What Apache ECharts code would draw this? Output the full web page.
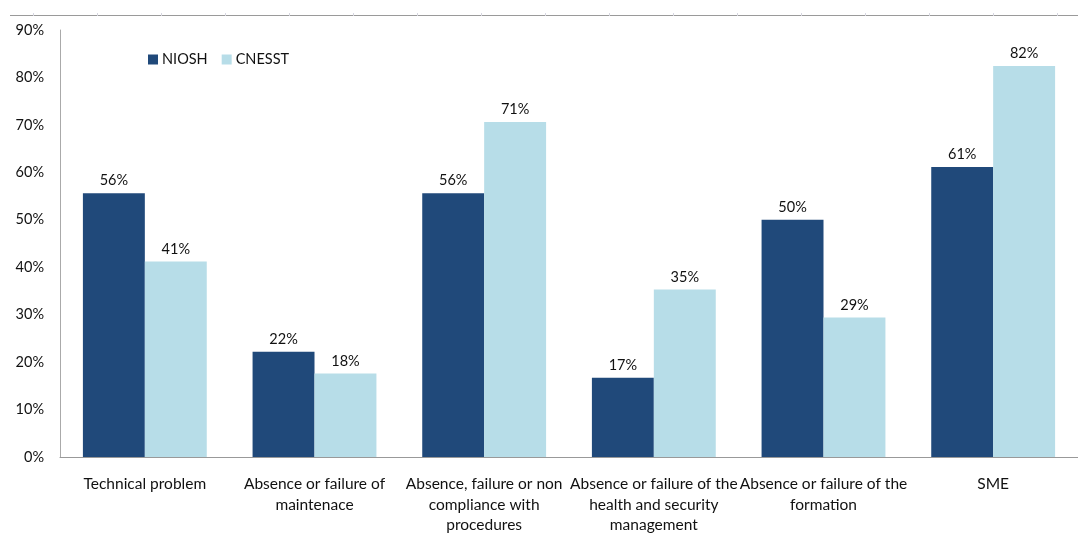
<!DOCTYPE html>
<html>
<head>
<meta charset="utf-8">
<script src="https://cdn.jsdelivr.net/npm/echarts@6/dist/echarts.min.js"></script>
<style>
html,body{margin:0;padding:0;background:#fff;}
#c{width:1078px;height:536px;}
</style>
</head>
<body>
<div id="c"></div>
<script>
const categories = [
  "Technical problem",
  "Absence or failure of\nmaintenace",
  "Absence, failure or non\ncompliance with\nprocedures",
  "Absence or failure of the\nhealth and security\nmanagement",
  "Absence or failure of the\nformation",
  "SME"
];
const niosh = [55.6, 22.2, 55.6, 16.7, 50.0, 61.1];
const cnesst = [41.2, 17.6, 70.6, 35.3, 29.4, 82.4];
const yTicks = [0, 10, 20, 30, 40, 50, 60, 70, 80, 90];

const FONT = 'Lato';
const chart = echarts.init(document.getElementById('c'));
const topTicks = [];
for (let x = 33.5; x < 1078; x += 64) {
  topTicks.push({type:'line', shape:{x1:x, y1:13, x2:x, y2:16}, style:{stroke:'#d6d6e0', lineWidth:1}, silent:true});
}
const label = {
  show: true, position: 'top', distance: 5,
  color: '#111', fontFamily: FONT, fontSize: 14.5,
  formatter: p => Math.round(p.value) + '%'
};
chart.setOption({
  animation: false,
  textStyle: {fontFamily: FONT},
  graphic: [
    {type:'line', shape:{x1:10, y1:15.5, x2:1078, y2:15.5}, style:{stroke:'#9a9a9a', lineWidth:1}, silent:true}
  ].concat(topTicks),
  legend: {
    left: 143, top: 47,
    itemWidth: 10, itemHeight: 10, itemGap: 14,
    icon: 'rect',
    textStyle: {fontFamily: FONT, fontSize: 14.5, color: '#111', padding:[0,0,0,-1]},
    data: ['NIOSH', 'CNESST']
  },
  grid: {left: 60, right: 0, top: 30, bottom: 79, containLabel: false, outerBoundsMode: 'none'},
  xAxis: {
    type: 'category',
    data: categories,
    axisLine: {lineStyle: {color: '#999', width: 1}},
    axisTick: {show: false},
    axisLabel: {
      interval: 0, margin: 17, color: '#111',
      fontFamily: FONT, fontSize: 15.5, lineHeight: 20.5
    }
  },
  yAxis: {
    type: 'value', min: 0, max: 90, interval: 10,
    axisLine: {show: true, lineStyle: {color: '#aaa', width: 1}},
    axisTick: {show: false},
    splitLine: {show: false},
    axisLabel: {
      margin: 16, color: '#111', fontFamily: FONT, fontSize: 14.5,
      formatter: v => yTicks.includes(v) ? v + '%' : ''
    }
  },
  series: [
    {name: 'NIOSH', type: 'bar', data: niosh, barGap: '0%', barCategoryGap: '27%',
     itemStyle: {color: '#20497a'}, label: label},
    {name: 'CNESST', type: 'bar', data: cnesst, barGap: '0%', barCategoryGap: '27%',
     itemStyle: {color: '#b7dde8'}, label: label}
  ]
});
</script>
</body>
</html>
